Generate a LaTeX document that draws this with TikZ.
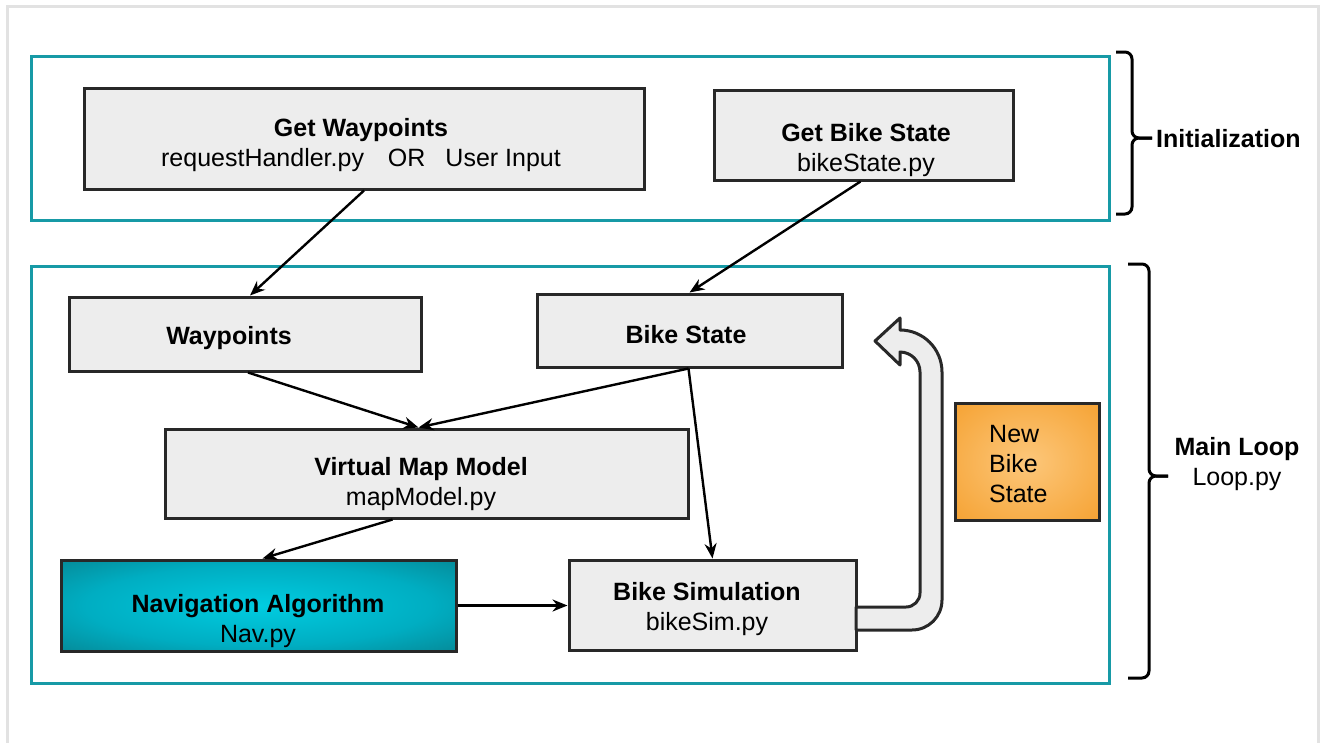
\documentclass[tikz,border=0pt]{standalone}
\usepackage{fontspec}
\setmainfont{Liberation Sans}
\usetikzlibrary{arrows.meta}

\definecolor{framegray}{RGB}{226,226,226}
\definecolor{teal}{RGB}{23,154,166}
\definecolor{boxfill}{RGB}{237,237,237}
\definecolor{boxline}{RGB}{40,40,40}

% radial fills for the two coloured boxes
\pgfdeclareradialshading{navshade}{\pgfpoint{0bp}{0bp}}{%
  rgb(0bp)=(0,0.80,0.88); rgb(22bp)=(0,0.68,0.76); rgb(50bp)=(0.04,0.40,0.43); rgb(72bp)=(0.02,0.33,0.36)}
\pgfdeclareradialshading{orangeshade}{\pgfpoint{0bp}{0bp}}{%
  rgb(0bp)=(0.99,0.78,0.48); rgb(50bp)=(0.95,0.58,0.09); rgb(72bp)=(0.94,0.55,0.05)}

\tikzset{
  frame/.style={draw=teal, line width=3pt},
  box/.style={draw=boxline, line width=3pt, fill=boxfill, inner sep=0pt},
  txt/.style={align=center, inner sep=0pt, font=\fontsize{25}{30}\selectfont},
  conn/.style={draw=black, line width=2.4pt, -{Stealth[length=15pt,width=12pt]}},
  bracepath/.style={draw=black, line width=3pt, rounded corners=7pt},
}

\begin{document}
\begin{tikzpicture}[x=1pt, y=-1pt]
  \useasboundingbox (0,0) rectangle (1325,742);
  \begin{scope}
    \clip (0,0) rectangle (1325,742);
    \draw[framegray, line width=3pt] (7,6) rectangle (1318,760);
  \end{scope}

  % stage frames
  \node[frame, minimum width=1078pt, minimum height=164pt] (init) at (570,138) {};
  \node[frame, minimum width=1078pt, minimum height=417pt] (loop) at (570,474.5) {};

  % initialisation boxes
  \node[box, minimum width=560pt, minimum height=101pt] (gw) at (364,138.5) {};
  \node[txt] (gwt) at (361,145) {\textbf{Get Waypoints}\\requestHandler.py\hspace{24pt}OR\hspace{20pt}User Input};
  \node[box, minimum width=299pt, minimum height=90pt] (gbs) at (863.5,135) {};
  \node[txt] (gbst) at (866,150) {\textbf{Get Bike State}\\bikeState.py};

  % main loop boxes
  \node[box, minimum width=352pt, minimum height=74pt] (wp) at (245,334) {};
  \node[txt] (wpt) at (229,338) {\textbf{Waypoints}};
  \node[box, minimum width=305pt, minimum height=73pt] (bs) at (689.5,330.5) {};
  \node[txt] (bst) at (686,335) {\textbf{Bike State}};
  \node[box, minimum width=523pt, minimum height=89pt] (vmm) at (426.5,473.5) {};
  \node[txt] (vmmt) at (421,484) {\textbf{Virtual Map Model}\\mapModel.py};
  \node[draw=boxline, line width=3pt, shading=navshade, inner sep=0pt,
        minimum width=395pt, minimum height=91pt] (nav) at (258.5,605.5) {};
  \node[txt] (navt) at (258,621) {\textbf{Navigation Algorithm}\\Nav.py};
  \node[box, minimum width=287pt, minimum height=90pt] (sim) at (712.5,605) {};
  \node[txt] (simt) at (707,609) {\textbf{Bike Simulation}\\bikeSim.py};
  \node[draw=boxline, line width=3pt, shading=orangeshade, inner sep=0pt,
        minimum width=144pt, minimum height=117pt] (nbs) at (1027,461.5) {};
  \node[txt, align=left, anchor=west] (nbst) at (989,464) {New\\Bike\\State};

  % connectors
  \draw[conn] (gw.south) -- ([xshift=5pt]wp.north);
  \draw[conn] ([xshift=-3pt]gbs.south) -- (bs.north);
  \draw[conn] ([xshift=3pt]wp.south) -- ([xshift=-8pt]vmm.north);
  \draw[conn] ([xshift=-1pt]bs.south) -- ([xshift=-8pt]vmm.north);
  \draw[conn] ([xshift=-1pt]bs.south) -- (sim.north);
  \draw[conn] ([xshift=-34pt]vmm.south) -- ([xshift=4pt]nav.north);
  \draw[conn] (nav.east) -- (sim.west |- nav.east);

  % feedback block arrow from the simulation back to the bike state
  \draw[boxline, line width=3pt, fill=boxfill, line join=round]
    (856,607) -- (906,607) .. controls (913.7,607) and (920,600.7) .. (920,593)
    -- (920,372) .. controls (920,361) and (911,352) .. (900,352)
    -- (900,365) -- (875,341) -- (900,318) -- (900,330)
    .. controls (923.2,330) and (942,348.8) .. (942,372)
    -- (942,600) .. controls (942,616.6) and (928.6,630) .. (912,630)
    -- (856,630) -- cycle;

  % braces and stage labels
  \coordinate (ib) at (1152,138);
  \draw[bracepath] (1116,52) -- (1132,52) -- (1132,138) -- (ib);
  \draw[bracepath] (1116,214) -- (1132,214) -- (1132,138) -- (ib);
  \node[txt, anchor=west] (initl) at (1156,139) {\textbf{Initialization}};

  \coordinate (lb) at (1168,476);
  \draw[bracepath] (1128,264) -- (1149,264) -- (1149,476) -- (lb);
  \draw[bracepath] (1128,678) -- (1149,678) -- (1149,476) -- (lb);
  \node[txt] (loopl) at (1237,464) {\textbf{Main Loop}\\Loop.py};
\end{tikzpicture}
\end{document}
